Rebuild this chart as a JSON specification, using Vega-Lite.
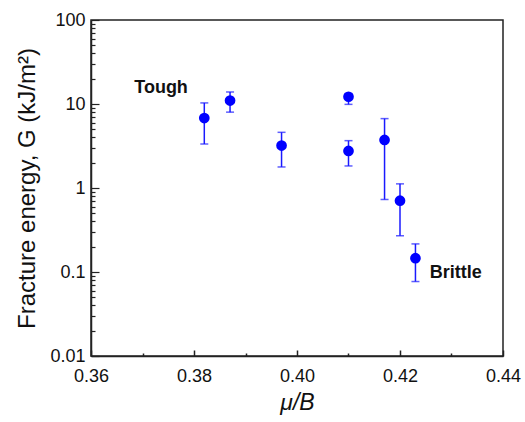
{
  "$schema": "https://vega.github.io/schema/vega-lite/v6.json",
  "width": 412,
  "height": 336,
  "autosize": {"type": "none"},
  "padding": {"left": 91, "top": 20, "right": 22, "bottom": 66},
  "config": {
    "view": {"stroke": "#222222", "strokeWidth": 1.5},
    "font": "Liberation Sans"
  },
  "datasets": {
    "pts": [
      {"mu": 0.382, "G": 6.8, "lo": 3.34, "hi": 10.3},
      {"mu": 0.387, "G": 11.0, "lo": 8.0, "hi": 13.9},
      {"mu": 0.397, "G": 3.2, "lo": 1.78, "hi": 4.6},
      {"mu": 0.410, "G": 12.2, "lo": 9.9, "hi": 13.3},
      {"mu": 0.410, "G": 2.76, "lo": 1.83, "hi": 3.66},
      {"mu": 0.417, "G": 3.73, "lo": 0.73, "hi": 6.7},
      {"mu": 0.420, "G": 0.706, "lo": 0.27, "hi": 1.12},
      {"mu": 0.423, "G": 0.146, "lo": 0.077, "hi": 0.216}
    ],
    "tough": [
      {"mu": 0.3736, "G": 13.5, "text": "Tough"}
    ],
    "brittle": [
      {"mu": 0.4258, "G": 0.085, "text": "Brittle"}
    ]
  },
  "resolve": {"axis": {"x": "independent", "y": "independent"}},
  "layer": [
    {
      "data": {"name": "pts"},
      "mark": {"type": "rule", "color": "#1a1aff", "strokeWidth": 1.5},
      "encoding": {
        "x": {
          "field": "mu", "type": "quantitative",
          "scale": {"domain": [0.36, 0.44], "nice": false, "zero": false},
          "axis": {
            "orient": "bottom",
            "title": "μ/B",
            "titleFont": "Liberation Sans",
            "titleFontStyle": "italic",
            "titleFontWeight": "normal",
            "titleFontSize": 23,
            "titleColor": "#111111",
            "titlePadding": 6,
            "values": [0.36, 0.38, 0.40, 0.42, 0.44],
            "format": ".2f",
            "labelFontSize": 18,
            "labelColor": "#111111",
            "labelPadding": 17,
            "labelFlush": false,
            "labelOverlap": false,
            "tickSize": -6,
            "tickColor": "#222222",
            "tickWidth": 1.5,
            "domainColor": "#222222",
            "domainWidth": 1.5,
            "grid": false
          }
        },
        "y": {
          "field": "lo", "type": "quantitative",
          "scale": {"type": "log", "domain": [0.01, 100], "nice": false},
          "axis": {
            "orient": "left",
            "title": "Fracture energy,  G (kJ/m²)",
            "titleFont": "Liberation Sans",
            "titleFontWeight": "normal",
            "titleFontSize": 24,
            "titleColor": "#111111",
            "titlePadding": 10,
            "values": [0.01, 0.1, 1, 10, 100],
            "labelExpr": "'' + datum.value",
            "labelFontSize": 18,
            "labelColor": "#111111",
            "labelPadding": 14,
            "labelOverlap": false,
            "labelFlush": false,
            "tickSize": -8,
            "tickColor": "#222222",
            "tickWidth": 1.2,
            "domainColor": "#222222",
            "domainWidth": 1.5,
            "grid": false
          }
        },
        "y2": {"field": "hi"}
      }
    },
    {
      "data": {"name": "pts"},
      "mark": {"type": "tick", "orient": "horizontal", "color": "#1a1aff", "size": 8, "thickness": 1.5},
      "encoding": {
        "x": {
          "field": "mu", "type": "quantitative",
          "axis": {
            "orient": "bottom",
            "title": null,
            "values": [0.37, 0.39, 0.41, 0.43],
            "labels": false,
            "domain": false,
            "tickSize": -3,
            "tickColor": "#222222",
            "tickWidth": 1.5,
            "grid": false
          }
        },
        "y": {
          "field": "lo", "type": "quantitative",
          "axis": {
            "orient": "left",
            "title": null,
            "values": [0.02, 0.03, 0.04, 0.05, 0.06, 0.07, 0.08, 0.09, 0.2, 0.3, 0.4, 0.5, 0.6, 0.7, 0.8, 0.9, 2, 3, 4, 5, 6, 7, 8, 9, 20, 30, 40, 50, 60, 70, 80, 90],
            "labels": false,
            "domain": false,
            "tickSize": -4,
            "tickColor": "#222222",
            "tickWidth": 1.2,
            "grid": false
          }
        }
      }
    },
    {
      "data": {"name": "pts"},
      "mark": {"type": "tick", "orient": "horizontal", "color": "#1a1aff", "size": 8, "thickness": 1.5},
      "encoding": {
        "x": {"field": "mu", "type": "quantitative", "axis": null},
        "y": {"field": "hi", "type": "quantitative", "axis": null}
      }
    },
    {
      "data": {"name": "pts"},
      "mark": {"type": "point", "shape": "circle", "filled": true, "color": "#0000ff", "opacity": 1, "size": 115},
      "encoding": {
        "x": {"field": "mu", "type": "quantitative", "axis": null},
        "y": {"field": "G", "type": "quantitative", "axis": null}
      }
    },
    {
      "data": {"name": "tough"},
      "mark": {"type": "text", "fontWeight": "bold", "fontSize": 18, "baseline": "alphabetic", "align": "center", "color": "#111111", "font": "Liberation Sans"},
      "encoding": {
        "x": {"field": "mu", "type": "quantitative", "axis": null},
        "y": {"field": "G", "type": "quantitative", "axis": null},
        "text": {"field": "text"}
      }
    },
    {
      "data": {"name": "brittle"},
      "mark": {"type": "text", "fontWeight": "bold", "fontSize": 18, "baseline": "alphabetic", "align": "left", "color": "#111111", "font": "Liberation Sans"},
      "encoding": {
        "x": {"field": "mu", "type": "quantitative", "axis": null},
        "y": {"field": "G", "type": "quantitative", "axis": null},
        "text": {"field": "text"}
      }
    }
  ]
}
